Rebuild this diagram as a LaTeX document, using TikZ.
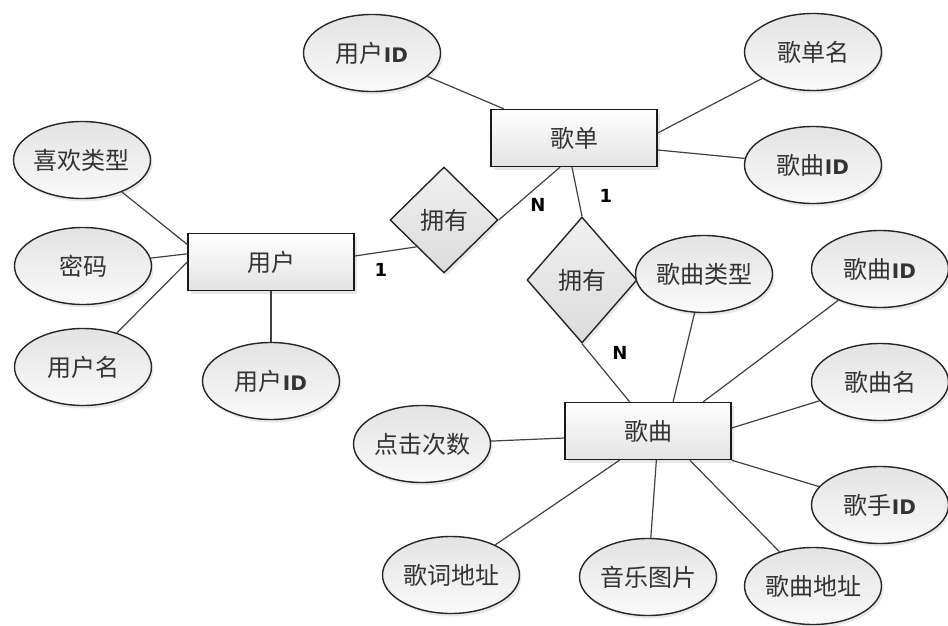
\documentclass[tikz,border=0pt]{standalone}
\usepackage{fontspec}
\setmainfont{Noto Sans CJK SC}
\newfontfamily\latinb{DejaVu Sans}
\usetikzlibrary{shapes.geometric,shadows,calc}
\newcommand{\IDt}{{\latinb\bfseries\fontsize{20}{24}\selectfont ID}}
\begin{document}
\begin{tikzpicture}[x=1pt,y=-1pt,
  every node/.style={font=\fontsize{24}{28}\selectfont, text=black!80},
  conn/.style={draw=black!75, line width=1.2pt},
  attr/.style={ellipse, draw=black!85, line width=1.4pt, minimum width=137pt, minimum height=77pt, inner sep=0pt,
    top color=gray!22, bottom color=gray!4,
    drop shadow={shadow xshift=2pt, shadow yshift=-3pt, opacity=0.18}},
  ent/.style={rectangle, draw=black!90, line width=1.4pt, minimum width=166pt, minimum height=57pt, inner sep=0pt,
    top color=white, bottom color=gray!22,
    drop shadow={shadow xshift=3pt, shadow yshift=-3pt, opacity=0.2}},
  rel/.style={diamond, draw=black!85, line width=1.4pt, inner sep=0pt,
    top color=gray!12, bottom color=gray!28,
    drop shadow={shadow xshift=2pt, shadow yshift=-3pt, opacity=0.18}},
  card/.style={font=\latinb\bfseries\fontsize{18}{21}\selectfont, text=black}
]
\useasboundingbox (0,0) rectangle (948,626);

% entities
\node[ent] (gd) at (574,138) {歌单};
\node[ent] (yh) at (271,262) {用户};
\node[ent] (gq) at (648,431) {歌曲};

% relations
\node[rel, minimum width=108pt, minimum height=106pt] (r1) at (444,220) {拥有};
\node[rel, minimum width=110pt, minimum height=126pt] (r2) at (582,280) {拥有};

% attributes
\node[attr] (a1) at (372,53) {用户\IDt};
\node[attr] (a2) at (813,52) {歌单名};
\node[attr] (a3) at (813,165) {歌曲\IDt};
\node[attr] (b1) at (82,160) {喜欢类型};
\node[attr] (b2) at (83,266) {密码};
\node[attr] (b3) at (83,367) {用户名};
\node[attr] (b4) at (271,381) {用户\IDt};
\node[attr] (c1) at (704,274) {歌曲类型};
\node[attr] (c2) at (880,269) {歌曲\IDt};
\node[attr] (c3) at (880,382) {歌曲名};
\node[attr] (c4) at (880,505) {歌手\IDt};
\node[attr] (c5) at (813,586) {歌曲地址};
\node[attr] (c6) at (648,577) {音乐图片};
\node[attr] (c7) at (451,575) {歌词地址};
\node[attr] (c8) at (422,444) {点击次数};

% helper coordinates on entity borders
\coordinate (gdA) at ($(gd.north west)!0.08!(gd.north east)$);
\coordinate (gdB) at ($(gd.east)+(0,-5)$);
\coordinate (gdC) at ($(gd.east)+(0,12)$);
\coordinate (gdD) at ($(gd.south)+(-14,0)$);
\coordinate (gdE) at ($(gd.south)+(-2,0)$);
\coordinate (yhA) at ($(yh.east)+(0,-6)$);
\coordinate (yhB) at ($(yh.north west)!0.2!(yh.south west)$);
\coordinate (yhC) at ($(yh.north west)!0.36!(yh.south west)$);
\coordinate (yhD) at ($(yh.north west)!0.5!(yh.south west)$);
\coordinate (gqA) at ($(gq.north west)!0.39!(gq.north east)$);
\coordinate (gqB) at ($(gq.north west)!0.65!(gq.north east)$);
\coordinate (gqC) at ($(gq.north west)!0.83!(gq.north east)$);
\coordinate (gqD) at ($(gq.east)+(0,-3)$);
\coordinate (gqE) at ($(gq.south west)!0.75!(gq.south east)$);
\coordinate (gqF) at ($(gq.south west)!0.55!(gq.south east)$);
\coordinate (gqG) at ($(gq.south west)!0.33!(gq.south east)$);
\coordinate (gqH) at ($(gq.west)+(0,7)$);

% connectors
\draw[conn] (a1) -- (gdA);
\draw[conn] (a2) -- (gdB);
\draw[conn] (a3) -- (gdC);
\draw[conn] (gdD) -- (r1.east);
\draw[conn] (gdE) -- (r2.north);
\draw[conn] (yhA) -- (r1.south west);
\draw[conn] (r2.south) -- (gqA);
\draw[conn] (b1) -- (yhB);
\draw[conn] (b2) -- (yhC);
\draw[conn] (b3) -- (yhD);
\draw[conn] (b4) -- (yh.south);
\draw[conn] (c1) -- (gqB);
\draw[conn] (c2) -- (gqC);
\draw[conn] (c3) -- (gqD);
\draw[conn] (c4) -- (gq.south east);
\draw[conn] (c5) -- (gqE);
\draw[conn] (c6) -- (gqF);
\draw[conn] (c7) -- (gqG);
\draw[conn] (c8) -- (gqH);

% cardinalities
\node[card] (n1) at (538,205) {N};
\node[card] (o1) at (606,196) {1};
\node[card] (o2) at (381,270) {1};
\node[card] (n2) at (620,353) {N};
\end{tikzpicture}
\end{document}
